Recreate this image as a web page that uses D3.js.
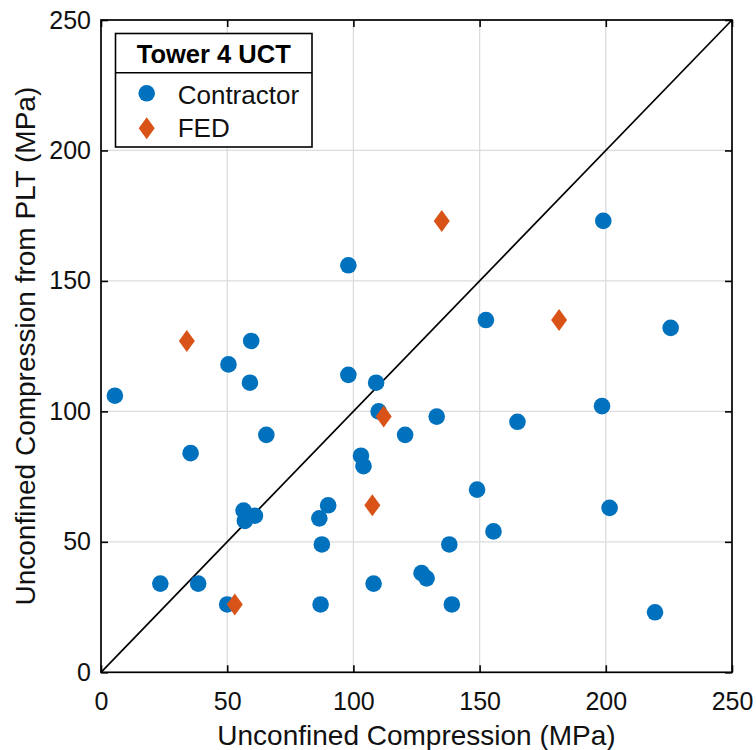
<!DOCTYPE html>
<html>
<head>
<meta charset="utf-8">
<script src="https://cdn.jsdelivr.net/npm/d3@7/dist/d3.min.js"></script>
<style>
  html, body { margin: 0; padding: 0; background: #fff; }
  svg { display: block; font-family: Arial, "Liberation Sans", sans-serif; }
</style>
</head>
<body>
<svg id="chart" width="756" height="750"></svg>
<script>
// ---- data ----
const contractorX = [98, 59.5, 50.5, 199, 152.5, 225.7, 5.5, 59, 98, 109, 110, 65.5, 35.5, 103, 104, 90, 86.5, 56.5, 57, 61, 87.5, 23.5, 38.5, 50, 87, 108, 133, 120.5, 165, 198.5, 149, 201.5, 155.5, 138, 127, 129, 139, 219.5];
const contractorY = [156, 127, 118, 173, 135, 132, 106, 111, 114, 111, 100, 91, 84, 83, 79, 64, 59, 62, 58, 60, 49, 34, 34, 26, 26, 34, 98, 91, 96, 102, 70, 63, 54, 49, 38, 36, 26, 23];
const fedX = [34, 135, 181.5, 107.5, 53, 112];
const fedY = [127, 173, 135, 64, 26, 98];
const xTicks = [0, 50, 100, 150, 200, 250];
const yTicks = [0, 50, 100, 150, 200, 250];
const seriesNames = ["Contractor", "FED"];
const legendTitle = "Tower 4 UCT";
const xLabel = "Unconfined Compression (MPa)";
const yLabel = "Unconfined Compression from PLT (MPa)";

const blue = "#0072BD", orange = "#D95319";

const svg = d3.select("#chart");
const L = 101, R = 732, T = 20, B = 672.3;
const x = d3.scaleLinear().domain([0, 250]).range([L, R]);
const y = d3.scaleLinear().domain([0, 250]).range([B, T]);

// grid
const g = svg.append("g");
g.selectAll(".gx").data(xTicks.slice(1, -1)).enter().append("line")
  .attr("x1", d => x(d)).attr("x2", d => x(d)).attr("y1", T).attr("y2", B)
  .attr("stroke", "#dcdcdc").attr("stroke-width", 1.3);
g.selectAll(".gy").data(yTicks.slice(1, -1)).enter().append("line")
  .attr("y1", d => y(d)).attr("y2", d => y(d)).attr("x1", L).attr("x2", R)
  .attr("stroke", "#dcdcdc").attr("stroke-width", 1.3);

// axes
const tickLen = 7;
const xAxisB = d3.axisBottom(x).tickValues(xTicks).tickSize(-tickLen).tickPadding(20);
const yAxisL = d3.axisLeft(y).tickValues(yTicks).tickSize(-tickLen).tickPadding(10);
const xAxisT = d3.axisTop(x).tickValues(xTicks).tickSize(-tickLen).tickFormat("");
const yAxisR = d3.axisRight(y).tickValues(yTicks).tickSize(-tickLen).tickFormat("");

function styleAxis(sel) {
  sel.select(".domain").remove();
  sel.selectAll(".tick line").attr("stroke", "#000").attr("stroke-width", 1.6);
  sel.selectAll(".tick text").attr("fill", "#111").style("font-size", "25px")
    .style("font-family", "Arial, 'Liberation Sans', sans-serif");
}
svg.append("g").attr("transform", `translate(0,${B})`).call(xAxisB).call(styleAxis);
svg.append("g").attr("transform", `translate(${L},0)`).call(yAxisL).call(styleAxis);
svg.append("g").attr("transform", `translate(0,${T})`).call(xAxisT).call(styleAxis);
svg.append("g").attr("transform", `translate(${R},0)`).call(yAxisR).call(styleAxis);

// diagonal
svg.append("line")
  .attr("x1", x(0)).attr("y1", y(0)).attr("x2", x(250)).attr("y2", y(250))
  .attr("stroke", "#000").attr("stroke-width", 1.7);

// points
const contractor = contractorX.map((v, i) => ({x: v, y: contractorY[i]}));
const fed = fedX.map((v, i) => ({x: v, y: fedY[i]}));
svg.append("g").selectAll("circle").data(contractor).enter().append("circle")
  .attr("cx", d => x(d.x)).attr("cy", d => y(d.y)).attr("r", 8.3).attr("fill", blue);
const diamond = "M0,-11L8,0L0,11L-8,0Z";
svg.append("g").selectAll("path").data(fed).enter().append("path")
  .attr("d", diamond).attr("transform", d => `translate(${x(d.x)},${y(d.y)})`).attr("fill", orange);

// box
svg.append("rect").attr("x", L).attr("y", T).attr("width", R - L).attr("height", B - T)
  .attr("fill", "none").attr("stroke", "#000").attr("stroke-width", 1.7);

// legend
const lg = svg.append("g");
const lx = 115.5, ly = 33.5, lw = 196.5, lh = 113.5, sepY = 72.7;
lg.append("rect").attr("x", lx).attr("y", ly).attr("width", lw).attr("height", lh)
  .attr("fill", "#fff").attr("stroke", "#000").attr("stroke-width", 1.6);
lg.append("line").attr("x1", lx).attr("x2", lx + lw).attr("y1", sepY).attr("y2", sepY)
  .attr("stroke", "#000").attr("stroke-width", 1.6);
lg.append("text").attr("x", lx + lw / 2).attr("y", 63.3).attr("text-anchor", "middle")
  .style("font-size", "25.5px").style("font-weight", "bold").attr("fill", "#000").text(legendTitle);
lg.append("circle").attr("cx", 146.7).attr("cy", 93.3).attr("r", 8.3).attr("fill", blue);
lg.append("path").attr("d", diamond).attr("transform", "translate(146.7,128.3)").attr("fill", orange);
lg.selectAll(".lt").data(seriesNames).enter().append("text")
  .attr("x", 177.7).attr("y", (d, i) => 104 + i * 33.3)
  .style("font-size", "26px").attr("fill", "#111").text(d => d);

// axis labels
svg.append("text").attr("x", (L + R) / 2).attr("y", 745).attr("text-anchor", "middle")
  .style("font-size", "28px").attr("fill", "#111").text(xLabel);
svg.append("text").attr("transform", `translate(35,${(T + B) / 2}) rotate(-90)`)
  .attr("text-anchor", "middle").style("font-size", "28px").attr("fill", "#111").text(yLabel);
</script>
</body>
</html>
